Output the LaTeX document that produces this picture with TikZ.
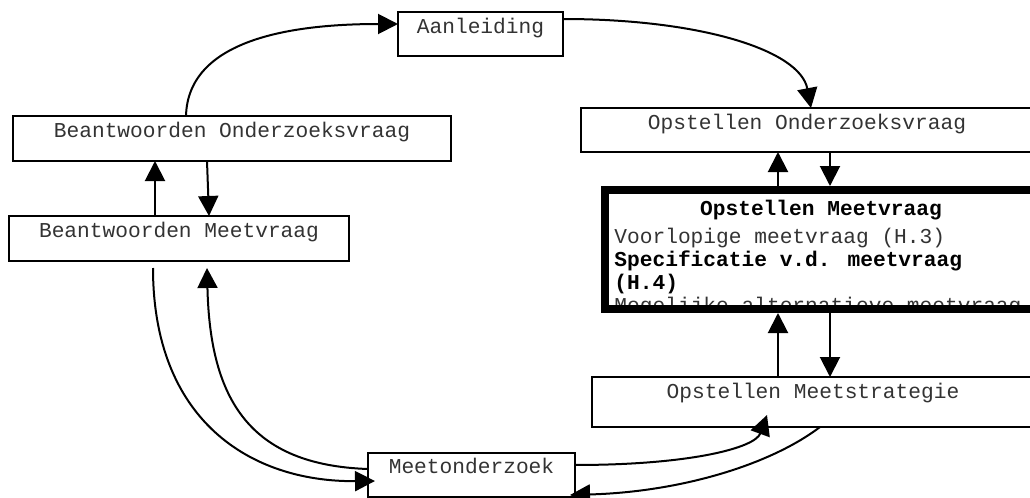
\documentclass[tikz,border=0pt]{standalone}
\usepackage{fontspec}
\setmainfont{Liberation Mono}
\usetikzlibrary{arrows.meta,calc}
\newcommand\diafont{\fontsize{10.6pt}{11.5pt}\selectfont}
\begin{document}
\begin{tikzpicture}[x=0.5pt,y=-0.5pt,
  every node/.style={font=\diafont},
  box/.style={draw, line width=1pt, inner sep=0pt, outer sep=0pt,
    text height=10.5pt, anchor=north west, text=black!80},
  conn/.style={line width=1pt, -{Triangle[length=10pt,width=10pt]}},
]
\path[use as bounding box, clip] (0,0) rectangle (1030,498);

% process boxes
\node[box, minimum width=82.5pt, text depth=11.5pt] (aan) at (398,12) {Aanleiding};
\node[box, minimum width=219pt, text depth=12pt] (bov) at (13,116) {Beantwoorden Onderzoeksvraag};
\node[box, minimum width=170pt, text depth=12pt] (bmv) at (9,216) {Beantwoorden Meetvraag};
\node[box, minimum width=226pt, text depth=11.5pt] (oov) at (581,108) {Opstellen Onderzoeksvraag};
\node[box, minimum width=221pt, text depth=14.5pt] (oms) at (592,377) {Opstellen Meetstrategie};
\node[box, minimum width=103.5pt, text height=10pt, text depth=12pt] (mo) at (368,453) {Meetonderzoek};

% highlighted step: contents cut off at the frame
\begin{scope}
  \clip (605,190) rectangle (1040,309);
  \node[anchor=base, inner sep=0pt, font={\diafont\bfseries}] (omvtitle) at (821,215) {Opstellen Meetvraag};
  \node[anchor=base west, inner sep=0pt] (omvbody) at (614,243) {%
    \fontsize{10.6pt}{11.5pt}\selectfont
    \begin{tabular}[t]{@{}l@{}}
      \textcolor{black!80}{Voorlopige meetvraag (H.3)}\\
      \textbf{Specificatie v.d. meetvraag}\\
      \textbf{(H.4)}\\
      \textcolor{black!80}{Mogelijke alternatieve meetvraag}
    \end{tabular}};
\end{scope}
\node[draw, line width=4pt, inner sep=0pt, anchor=north west,
  minimum width=216pt, minimum height=59.5pt] (omv) at (601,186) {};

% connectors
\draw[conn] (186,0 |- bov.north) .. controls (188,40) and (290,24) .. ($(aan.north west)+(0,12)$);
\draw[conn] ($(aan.north east)+(0,7)$) .. controls (700,19) and (800,50) .. (811,0 |- oov.north);

\draw[conn] (778,0 |- omv.north) -- (778,0 |- oov.south);
\draw[conn] (830,0 |- oov.south) -- (830,0 |- omv.north);
\draw[conn] (778,0 |- oms.north) -- (778,0 |- omv.south);
\draw[conn] (830,0 |- omv.south) -- (830,0 |- oms.north);

\draw[conn] (155,0 |- bmv.north) -- (155,0 |- bov.south);
\draw[conn] (207,0 |- bov.south) -- (209,0 |- bmv.north);

\draw[conn] ($(bmv.south west)+(144,7)$) .. controls (153,420) and (250,482) .. ($(mo.south west)+(7,-16)$);
\draw[conn] ($(mo.north west)+(0,16)$) .. controls (250,465) and (210,400) .. ($(bmv.south west)+(198,7)$);

\draw[conn] ($(mo.north east)+(0,12)$) .. controls (690,465) and (755,448) .. ($(oms.south west)+(175,-12)$);
\draw[conn] ($(oms.south west)+(228,0)$) .. controls (770,465) and (680,492) .. ($(mo.south east)+(-5,-2)$);
\end{tikzpicture}
\end{document}
